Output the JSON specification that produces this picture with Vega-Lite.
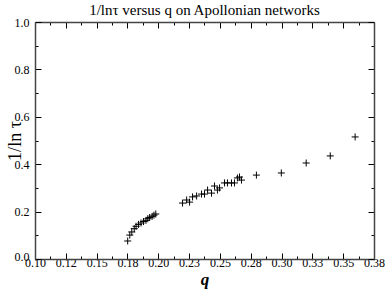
{
  "$schema": "https://vega.github.io/schema/vega-lite/v6.json",
  "autosize": {"type": "none"},
  "padding": {"left": 35, "top": 22, "right": 12, "bottom": 30},
  "width": 339,
  "height": 237,
  "background": "white",
  "title": {"text": "1/lnτ versus q on Apollonian networks", "font": "Liberation Serif", "fontSize": 15, "fontWeight": "normal", "color": "black", "offset": -2},
  "config": {
    "view": {"stroke": null},
    "axis": {"grid": false, "labelFont": "Liberation Serif", "labelFontSize": 12, "labelColor": "black", "tickColor": "black", "domainColor": "#444", "domainWidth": 1.5, "titleFont": "Liberation Serif", "titleColor": "black"}
  },
  "data": {"values": [
    {"q": 0.1752, "v": 0.076}, {"q": 0.1769, "v": 0.101}, {"q": 0.1785, "v": 0.114}, {"q": 0.1805, "v": 0.128},
    {"q": 0.182, "v": 0.138}, {"q": 0.184, "v": 0.146}, {"q": 0.186, "v": 0.152}, {"q": 0.188, "v": 0.158},
    {"q": 0.19, "v": 0.163}, {"q": 0.1915, "v": 0.17}, {"q": 0.193, "v": 0.175}, {"q": 0.195, "v": 0.18},
    {"q": 0.1965, "v": 0.185}, {"q": 0.198, "v": 0.19},
    {"q": 0.2197, "v": 0.236}, {"q": 0.223, "v": 0.249}, {"q": 0.2254, "v": 0.24}, {"q": 0.2278, "v": 0.262},
    {"q": 0.2311, "v": 0.266}, {"q": 0.2351, "v": 0.274}, {"q": 0.2375, "v": 0.274}, {"q": 0.24, "v": 0.291},
    {"q": 0.2432, "v": 0.278}, {"q": 0.2456, "v": 0.308}, {"q": 0.248, "v": 0.291}, {"q": 0.2497, "v": 0.3},
    {"q": 0.2537, "v": 0.321}, {"q": 0.2561, "v": 0.321}, {"q": 0.2594, "v": 0.321}, {"q": 0.2618, "v": 0.321},
    {"q": 0.2642, "v": 0.342}, {"q": 0.2659, "v": 0.346}, {"q": 0.2675, "v": 0.333},
    {"q": 0.2796, "v": 0.354}, {"q": 0.2998, "v": 0.363}, {"q": 0.32, "v": 0.405}, {"q": 0.3395, "v": 0.435},
    {"q": 0.3597, "v": 0.515}
  ]},
  "layer": [
    {
      "mark": {"type": "point", "shape": "M-1,0H1M0,-1V1", "filled": false, "stroke": "black", "strokeWidth": 1, "size": 49, "opacity": 1},
      "encoding": {
        "x": {"field": "q", "type": "quantitative", "scale": {"domain": [0.1, 0.375], "nice": false, "zero": false},
          "axis": {"orient": "bottom", "title": "q", "titleFontSize": 17, "titleFontWeight": "bold", "titleFontStyle": "italic", "titlePadding": 0,
            "values": [0.1, 0.1125, 0.125, 0.1375, 0.15, 0.1625, 0.175, 0.1875, 0.2, 0.2125, 0.225, 0.2375, 0.25, 0.2625, 0.275, 0.2875, 0.3, 0.3125, 0.325, 0.3375, 0.35, 0.3625, 0.375],
            "labelExpr": "round((datum.value-0.1)/0.0125)%2==1 ? '' : ['0.10','0.12','0.15','0.18','0.20','0.23','0.25','0.28','0.30','0.33','0.35','0.38'][round((datum.value-0.1)/0.025)]",
            "tickSize": {"condition": {"test": "round((datum.value-0.1)/0.0125)%2==1", "value": -3}, "value": -6},
            "labelPadding": 4, "labelFlush": false, "labelOverlap": false}},
        "y": {"field": "v", "type": "quantitative", "scale": {"domain": [0, 1], "nice": false},
          "axis": {"orient": "left", "title": "1/ln τ", "titleFontSize": 18, "titleFontWeight": "normal", "titlePadding": -10,
            "values": [0, 0.1, 0.2, 0.3, 0.4, 0.5, 0.6, 0.7, 0.8, 0.9, 1.0],
            "labelExpr": "round(datum.value*10)%2==1 ? '' : format(datum.value, '.1f')",
            "tickSize": {"condition": {"test": "round(datum.value*10)%2==1", "value": -3}, "value": -6},
            "labelOffset": {"condition": {"test": "datum.value == 0", "value": -3}, "value": 0},
            "labelPadding": 12, "labelFlush": false, "labelOverlap": false}}
      }
    },
    {
      "mark": {"type": "point", "opacity": 0},
      "encoding": {
        "x": {"field": "q", "type": "quantitative",
          "axis": {"orient": "top", "title": null, "labels": false,
            "values": [0.1, 0.1125, 0.125, 0.1375, 0.15, 0.1625, 0.175, 0.1875, 0.2, 0.2125, 0.225, 0.2375, 0.25, 0.2625, 0.275, 0.2875, 0.3, 0.3125, 0.325, 0.3375, 0.35, 0.3625, 0.375],
            "tickSize": {"condition": {"test": "round((datum.value-0.1)/0.0125)%2==1", "value": -3}, "value": -6}}},
        "y": {"field": "v", "type": "quantitative",
          "axis": {"orient": "right", "title": null, "labels": false,
            "values": [0, 0.1, 0.2, 0.3, 0.4, 0.5, 0.6, 0.7, 0.8, 0.9, 1.0],
            "tickSize": {"condition": {"test": "round(datum.value*10)%2==1", "value": -3}, "value": -6}}}
      }
    }
  ],
  "resolve": {"axis": {"x": "independent", "y": "independent"}}
}
